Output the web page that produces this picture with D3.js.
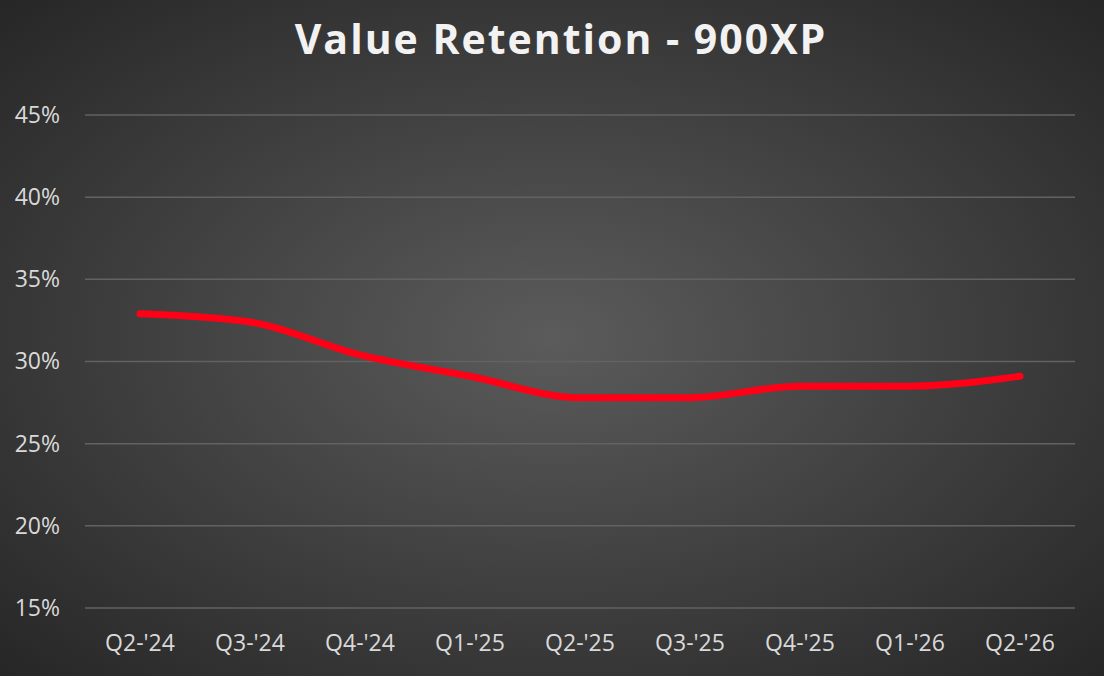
<!DOCTYPE html>
<html><head><meta charset="utf-8">
<script src="https://cdn.jsdelivr.net/npm/d3@7"></script>
<style>html,body{margin:0;padding:0;background:#333;}svg{display:block;}</style>
</head><body>
<svg id="chart" width="1104" height="676"></svg>
<script>
const categories = ["Q2-'24","Q3-'24","Q4-'24","Q1-'25","Q2-'25","Q3-'25","Q4-'25","Q1-'26","Q2-'26"];
const retention = [32.9, 32.4, 30.4, 29.1, 27.8, 27.8, 28.5, 28.5, 29.1];
const yTicks = [15, 20, 25, 30, 35, 40, 45];
const title = "Value Retention - 900XP";

const W = 1104, H = 676;
const m = {left: 85, right: 29, top: 115, bottom: 68};
const svg = d3.select("#chart");
const defs = svg.append("defs");
const g = defs.append("radialGradient").attr("id","bg").attr("cx","50%").attr("cy","50%").attr("r","75%")
  .attr("gradientUnits","objectBoundingBox");
g.append("stop").attr("offset","0%").attr("stop-color","#5b5b5b");
g.append("stop").attr("offset","100%").attr("stop-color","#232323");
svg.append("rect").attr("width",W).attr("height",H).attr("fill","url(#bg)");

const x = d3.scaleBand().domain(categories).range([m.left, W - m.right]);
const y = d3.scaleLinear().domain([15, 45]).range([H - m.bottom, m.top]);

// gridlines
svg.append("g").selectAll("line").data(yTicks).join("line")
  .attr("x1", m.left).attr("x2", W - m.right)
  .attr("y1", d => y(d)).attr("y2", d => y(d))
  .attr("stroke", "#626262").attr("stroke-width", 1.5);

// y axis labels
const yAxis = d3.axisLeft(y).tickValues(yTicks).tickFormat(d => d + "%").tickSize(0).tickPadding(25);
const ya = svg.append("g").attr("transform", `translate(${m.left},0)`).call(yAxis);
ya.select(".domain").remove();
ya.selectAll("text").attr("fill","#d9d9d9").style("font-family","'Open Sans', sans-serif").style("font-size","23px");

// x axis labels
const xAxis = d3.axisBottom(x).tickSize(0).tickPadding(27);
const xa = svg.append("g").attr("transform", `translate(0,${H - m.bottom})`).call(xAxis);
xa.select(".domain").remove();
xa.selectAll("text").attr("fill","#d9d9d9").style("font-family","'Open Sans', sans-serif").style("font-size","23px");

// line
const line = d3.line().x((d,i) => x(categories[i]) + x.bandwidth()/2).y(d => y(d)).curve(d3.curveMonotoneX);
svg.append("path").datum(retention).attr("d", line)
  .attr("fill","none").attr("stroke","#ff0016").attr("stroke-width",7).attr("stroke-linecap","round").attr("stroke-linejoin","round");

// title
svg.append("text").attr("x", 561).attr("y", 54).attr("text-anchor","middle")
  .attr("fill","#f2f2f2").style("font-family","'Open Sans', sans-serif").style("font-weight","bold")
  .style("font-size","41px").style("letter-spacing","2px").text(title);
</script>
</body></html>
